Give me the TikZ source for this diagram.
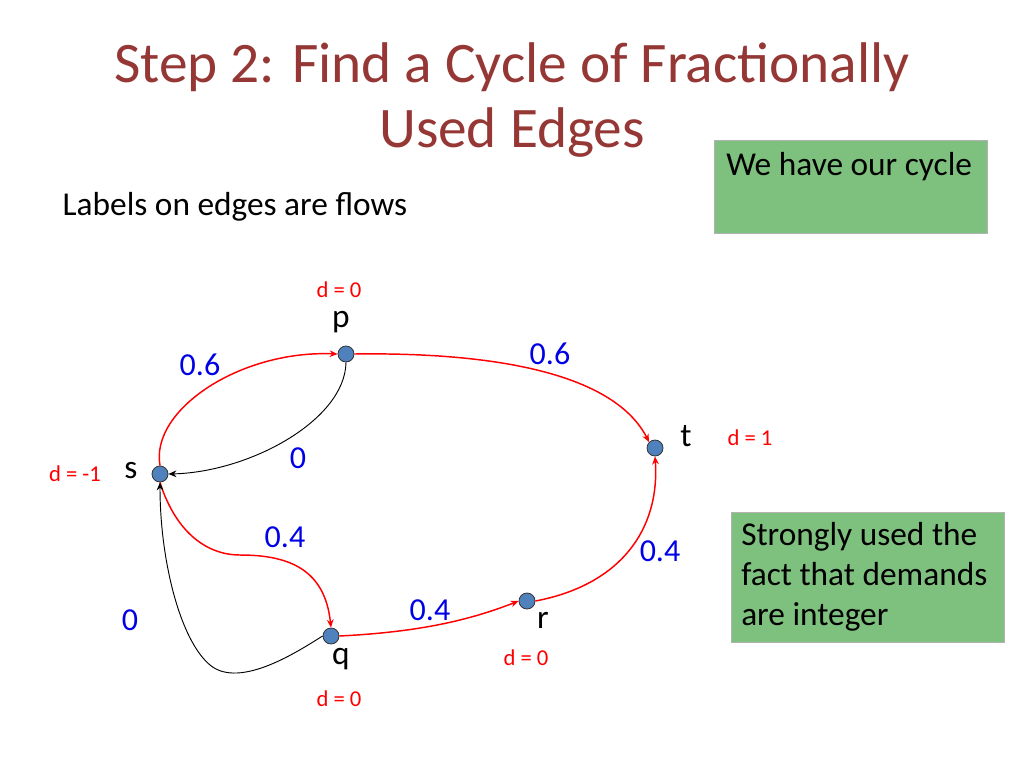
\documentclass[tikz,border=0pt]{standalone}
\usepackage{fontspec}
\setmainfont{Carlito}
\usetikzlibrary{arrows.meta}
\definecolor{ttl}{RGB}{149,55,53}
\definecolor{grn}{RGB}{126,192,126}
\definecolor{nd}{RGB}{79,129,189}
\definecolor{fl}{RGB}{0,0,230}
\begin{document}
\begin{tikzpicture}[x=0.75pt,y=-0.75pt,
  vtx/.style={circle,fill=nd,draw=black!80,line width=0.6pt,minimum size=12pt,inner sep=0},
  rd/.style={draw=red,line width=1.1pt,-{Stealth[length=6pt,width=5pt]}},
  bk/.style={draw=black,line width=0.7pt,-{Stealth[length=6pt,width=5pt]}},
  fw/.style={text=fl,font=\fontsize{24}{28}\selectfont},
  dl/.style={text=red,font=\fontsize{17}{20}\selectfont},
  lt/.style={font=\fontsize{25}{30}\selectfont},
  box/.style={anchor=north west,align=left,inner sep=0,font=\fontsize{25}{30}\selectfont}]
\useasboundingbox (0,0) rectangle (1024,768);
\node[text=ttl,font=\fontsize{43}{49}\selectfont,align=center] (title) at (512,100) {Step 2: Find a Cycle of Fractionally\\Used Edges};
\node[lt,anchor=west] (lab) at (58,207) {Labels on edges are flows};
\draw[fill=grn,draw=black!30,line width=0.6pt] (714,140) rectangle (987,233);
\node[box] (b1) at (726,152) {We have our cycle};
\draw[fill=grn,draw=black!30,line width=0.6pt] (731,512) rectangle (1004,642);
\node[box] (b2) at (741,522) {Strongly used the\\fact that demands\\are integer};
\node[vtx] (p) at (346,354) {};
\node[vtx] (t) at (655,448) {};
\node[vtx] (s) at (160,474) {};
\node[vtx] (q) at (331,636) {};
\node[vtx] (r) at (527,601) {};
\node[lt] (pl) at (341,322) {p};
\node[lt] (tl) at (686,436) {t};
\node[lt] (sl) at (131,471) {s};
\node[lt] (ql) at (341,659) {q};
\node[lt] (rl) at (543,620) {r};
\node[dl] (dp) at (339,290) {d = 0};
\node[dl] (dt) at (750,438) {d = 1};
\node[dl] (ds) at (75,474) {d = -1};
\node[dl] (dr) at (526,658) {d = 0};
\node[dl] (dq) at (339,699) {d = 0};
\node[fw] (f1) at (200,365) {0.6};
\node[fw] (f2) at (550,354) {0.6};
\node[fw] (f3) at (298,458) {0};
\node[fw] (f4) at (285,537) {0.4};
\node[fw] (f5) at (660,551) {0.4};
\node[fw] (f6) at (430,610) {0.4};
\node[fw] (f7) at (130,620) {0};
\coordinate (m1) at (240,555);
\coordinate (m2) at (210,665);
\draw[rd] (s.north) .. controls (150,410) and (240,350) .. (p.west);
\draw[rd] (p.east) .. controls (500,352) and (615,375) .. (t.north west);
\draw[bk] (p.south) .. controls (345,420) and (250,472) .. (s.east);
\draw[red,line width=1.1pt] (s.south) .. controls (175,530) and (205,555) .. (m1);
\draw[rd] (m1) .. controls (290,555) and (325,570) .. (q.north);
\draw[black,line width=0.7pt] (q.west) .. controls (300,650) and (240,690) .. (m2);
\draw[bk] (m2) .. controls (180,640) and (160,560) .. (s.south);
\draw[rd] (q.east) .. controls (420,632) and (470,620) .. (r.west);
\draw[rd] (r.east) .. controls (620,585) and (660,530) .. (t.south);
\end{tikzpicture}
\end{document}
